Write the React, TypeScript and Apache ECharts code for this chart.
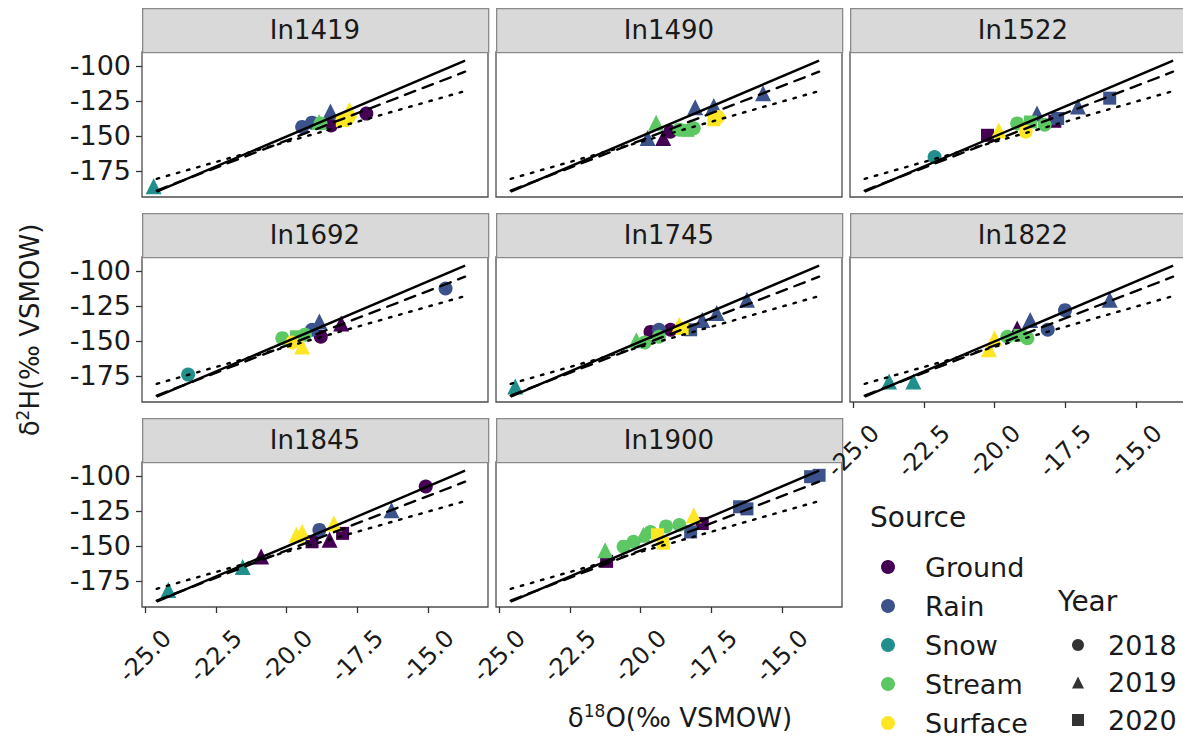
import React, { useEffect, useRef } from "react";
import * as echarts from "echarts";

const FONT = "'DejaVu Sans', 'Liberation Sans', sans-serif";

const panelNames = ["In1419", "In1490", "In1522", "In1692", "In1745", "In1822", "In1845", "In1900"];
const sourceNames = ["Ground", "Rain", "Snow", "Stream", "Surface"];
const sourceColors = ["#440154", "#3B528B", "#21908C", "#5DC863", "#FDE725"];
const yearNames = ["2018", "2019", "2020"];
const yearSymbols = ["circle", "triangle", "rect"];
const yearSizes = [14, 16, 13];

type Pt = [number, number, string, string]; // d18O, d2H, source, year

const in1419: Pt[] = [
  [-24.7, -186, "Snow", "2019"],
  [-19.45, -143.5, "Rain", "2018"],
  [-19.1, -140.5, "Rain", "2018"],
  [-18.85, -140, "Stream", "2019"],
  [-18.8, -141, "Stream", "2018"],
  [-18.45, -132.5, "Rain", "2019"],
  [-18.43, -142.5, "Ground", "2018"],
  [-18.03, -139, "Surface", "2020"],
  [-17.82, -137, "Surface", "2018"],
  [-17.78, -131.5, "Surface", "2019"],
  [-17.18, -134, "Ground", "2018"],
];
const in1490: Pt[] = [
  [-19.45, -140.5, "Stream", "2019"],
  [-19.75, -151.5, "Rain", "2019"],
  [-19.2, -151.5, "Ground", "2019"],
  [-18.95, -147, "Ground", "2018"],
  [-18.63, -145.5, "Stream", "2018"],
  [-18.33, -146, "Stream", "2020"],
  [-18.12, -144.5, "Stream", "2018"],
  [-18.07, -129.5, "Rain", "2019"],
  [-17.41, -128.5, "Rain", "2019"],
  [-17.41, -138.5, "Surface", "2020"],
  [-17.26, -136.5, "Surface", "2018"],
  [-15.67, -119.5, "Rain", "2019"],
];
const in1522: Pt[] = [
  [-22.12, -165, "Snow", "2018"],
  [-20.25, -149.5, "Ground", "2020"],
  [-19.85, -146, "Surface", "2019"],
  [-19.2, -141, "Stream", "2018"],
  [-18.73, -140, "Stream", "2020"],
  [-18.23, -142, "Stream", "2018"],
  [-18.9, -147, "Surface", "2018"],
  [-18.5, -134, "Rain", "2019"],
  [-17.87, -139.5, "Ground", "2020"],
  [-17.77, -137.5, "Rain", "2020"],
  [-17.05, -129, "Rain", "2019"],
  [-15.93, -123, "Rain", "2020"],
];
const in1692: Pt[] = [
  [-23.48, -174, "Snow", "2018"],
  [-20.15, -148, "Stream", "2018"],
  [-19.8, -151, "Surface", "2018"],
  [-19.65, -147, "Stream", "2020"],
  [-19.45, -154, "Surface", "2019"],
  [-19.35, -145.5, "Stream", "2018"],
  [-19.1, -142, "Rain", "2018"],
  [-18.84, -136, "Rain", "2019"],
  [-18.79, -147, "Ground", "2018"],
  [-18.07, -137.5, "Ground", "2019"],
  [-14.38, -112.5, "Rain", "2018"],
];
const in1745: Pt[] = [
  [-24.43, -182.5, "Snow", "2019"],
  [-20.15, -149.5, "Stream", "2019"],
  [-19.85, -151, "Stream", "2018"],
  [-19.65, -143.5, "Ground", "2018"],
  [-19.35, -147, "Stream", "2018"],
  [-19.35, -142, "Rain", "2018"],
  [-18.94, -142, "Ground", "2018"],
  [-18.63, -138.5, "Surface", "2019"],
  [-18.53, -141, "Surface", "2020"],
  [-18.23, -142, "Rain", "2020"],
  [-17.82, -135, "Rain", "2019"],
  [-17.31, -130, "Rain", "2019"],
  [-16.24, -120.5, "Rain", "2019"],
];
const in1822: Pt[] = [
  [-23.73, -179, "Snow", "2019"],
  [-22.87, -179, "Snow", "2019"],
  [-20.2, -156, "Surface", "2019"],
  [-20.0, -148, "Surface", "2019"],
  [-19.55, -147, "Stream", "2018"],
  [-19.2, -141, "Ground", "2019"],
  [-19.1, -146, "Stream", "2020"],
  [-18.84, -148, "Stream", "2018"],
  [-18.74, -135, "Rain", "2019"],
  [-18.12, -142, "Rain", "2018"],
  [-17.51, -128, "Rain", "2018"],
  [-15.93, -120.5, "Rain", "2019"],
];
const in1845: Pt[] = [
  [-24.18, -181.5, "Snow", "2019"],
  [-21.55, -165, "Snow", "2019"],
  [-20.9, -157.5, "Ground", "2019"],
  [-19.65, -142, "Surface", "2019"],
  [-19.45, -140, "Surface", "2019"],
  [-19.1, -147, "Ground", "2020"],
  [-18.84, -138.5, "Rain", "2018"],
  [-18.48, -145.5, "Ground", "2019"],
  [-18.33, -134, "Surface", "2019"],
  [-18.02, -141, "Ground", "2020"],
  [-16.29, -124.5, "Rain", "2019"],
  [-15.08, -107.5, "Ground", "2018"],
];
const in1900: Pt[] = [
  [-21.25, -153, "Stream", "2019"],
  [-21.2, -161, "Ground", "2020"],
  [-20.6, -150.5, "Stream", "2018"],
  [-20.25, -147, "Stream", "2018"],
  [-19.9, -142, "Stream", "2019"],
  [-19.65, -140, "Stream", "2018"],
  [-19.4, -142, "Surface", "2020"],
  [-19.2, -148, "Surface", "2020"],
  [-19.1, -136, "Stream", "2018"],
  [-18.63, -135, "Stream", "2018"],
  [-18.23, -140, "Rain", "2020"],
  [-18.12, -128, "Surface", "2019"],
  [-17.82, -134, "Ground", "2020"],
  [-16.5, -122, "Rain", "2020"],
  [-16.24, -123.5, "Rain", "2020"],
  [-13.99, -100.5, "Rain", "2020"],
  [-13.69, -99.5, "Rain", "2020"],
];
const panelPoints = [in1419, in1490, in1522, in1692, in1745, in1822, in1845, in1900];

const xTicks = [-25, -22.5, -20, -17.5, -15];
const yTicks = [-175, -150, -125, -100];

// water line endpoints (d18O, d2H)
const lineD18O = [-24.59, -13.69];
const solidD2H = [-189.8, -96.2];
const dashedD2H = [-189.0, -104.1];
const dottedD2H = [-180.6, -117.9];

const X_MIN = -25.11;
const X_MAX = -12.88;
const Y_MIN = -193.6;
const Y_MAX = -90;

const colLefts = [142, 496, 850];
const rowTops = [52, 257, 462];
const PW = 346;
const PH = 145;
const STRIP_H = 44;

function buildOption() {
  const grid: any[] = [];
  const xAxis: any[] = [];
  const yAxis: any[] = [];
  const series: any[] = [];
  const graphic: any[] = [];

  panelNames.forEach((name, i) => {
    const row = Math.floor(i / 3);
    const col = i % 3;
    const left = colLefts[col];
    const top = rowTops[row];
    const showX = i >= 5;
    const showY = col === 0;

    grid.push({
      left, top, width: PW, height: PH,
      show: true, borderColor: "#4d4d4d", borderWidth: 1.3,
      backgroundColor: "#fff", containLabel: false, outerBoundsMode: "none",
    });
    xAxis.push({
      gridIndex: i, type: "value", min: X_MIN, max: X_MAX,
      axisLine: { show: false }, splitLine: { show: false },
      axisTick: { show: showX, customValues: xTicks, length: 6, lineStyle: { color: "#333", width: 1.3 } },
      axisLabel: {
        show: showX, customValues: xTicks, rotate: 45, margin: 49,
        align: "center", verticalAlign: "middle",
        fontSize: 24, color: "#1a1a1a", fontFamily: FONT,
        formatter: (v: number) => v.toFixed(1),
      },
    });
    yAxis.push({
      gridIndex: i, type: "value", min: Y_MIN, max: Y_MAX,
      axisLine: { show: false }, splitLine: { show: false },
      axisTick: { show: showY, customValues: yTicks, length: 6, lineStyle: { color: "#333", width: 1.3 } },
      axisLabel: {
        show: showY, customValues: yTicks, margin: 11,
        fontSize: 27, color: "#1a1a1a", fontFamily: FONT,
      },
    });

    // strip
    graphic.push({
      type: "rect", left, top: top - STRIP_H, silent: true,
      shape: { width: PW, height: STRIP_H },
      style: { fill: "#d9d9d9", stroke: "#8a8a8a", lineWidth: 1.3 },
    });
    graphic.push({
      type: "text", x: left + PW / 2, y: top - STRIP_H / 2, silent: true,
      style: { text: name, fontSize: 26, fill: "#1a1a1a", fontFamily: FONT, align: "center", verticalAlign: "middle" },
    });

    // points, one series per source
    sourceNames.forEach((src, si) => {
      const pts = panelPoints[i].filter((p) => p[2] === src);
      if (!pts.length) return;
      series.push({
        type: "scatter", name: src, xAxisIndex: i, yAxisIndex: i, z: 2,
        itemStyle: { color: sourceColors[si], opacity: 1 },
        data: pts.map((p) => {
          const yi = yearNames.indexOf(p[3]);
          return { value: [p[0], p[1]], symbol: yearSymbols[yi], symbolSize: yearSizes[yi] };
        }),
      });
    });

    const lines: [number[], any][] = [
      [solidD2H, "solid"],
      [dashedD2H, [11, 8]],
      [dottedD2H, [2.5, 8]],
    ];
    lines.forEach(([ys, type]) => {
      series.push({
        type: "line", xAxisIndex: i, yAxisIndex: i, z: 4, symbol: "none", silent: true,
        lineStyle: { color: "#000", width: 2.4, type, cap: type === "solid" ? "butt" : "round" },
        data: lineD18O.map((x, k) => [x, ys[k]]),
      });
    });
  });

  // dummy series for the Year legend
  yearNames.forEach((y) => {
    series.push({ type: "scatter", name: y, xAxisIndex: 0, yAxisIndex: 0, itemStyle: { color: "#000" }, data: [] });
  });

  const titleRich = {
    a: { fontSize: 26, fontFamily: FONT, lineHeight: 32, fill: "#1a1a1a" },
    s: { fontSize: 17, fontFamily: FONT, verticalAlign: "top", fill: "#1a1a1a" },
  };
  graphic.push({
    type: "text", x: 680, y: 718, silent: true,
    style: { text: "{a|δ}{s|18}{a|O(‰ VSMOW)}", align: "center", verticalAlign: "middle", fill: "#1a1a1a", rich: titleRich },
  });
  graphic.push({
    type: "text", x: 30, y: 330, rotation: Math.PI / 2, silent: true,
    style: { text: "{a|δ}{s|2}{a|H(‰ VSMOW)}", align: "center", verticalAlign: "middle", fill: "#1a1a1a", rich: titleRich },
  });
  graphic.push({
    type: "text", x: 870, y: 517, silent: true,
    style: { text: "Source", fontSize: 28, fontFamily: FONT, fill: "#1a1a1a", align: "left", verticalAlign: "middle" },
  });
  graphic.push({
    type: "text", x: 1058, y: 601, silent: true,
    style: { text: "Year", fontSize: 28, fontFamily: FONT, fill: "#1a1a1a", align: "left", verticalAlign: "middle" },
  });

  return {
    animation: false,
    backgroundColor: "#fff",
    textStyle: { fontFamily: FONT },
    grid, xAxis, yAxis, series, graphic,
    legend: [
      {
        left: 881, top: 553, orient: "vertical", icon: "circle", selectedMode: false, padding: 0,
        itemWidth: 14, itemHeight: 14, itemGap: 11, height: 190,
        data: sourceNames,
        textStyle: { fontSize: 27, color: "#1a1a1a", fontFamily: FONT, lineHeight: 28, padding: [0, 0, 0, 25] },
      },
      {
        left: 1072, top: 631, orient: "vertical", selectedMode: false, padding: 0,
        itemWidth: 12, itemHeight: 12, itemGap: 9.5, height: 106,
        data: yearNames.map((y, k) => ({ name: y, icon: yearSymbols[k] })),
        textStyle: { fontSize: 27, color: "#1a1a1a", fontFamily: FONT, lineHeight: 28, padding: [0, 0, 0, 19] },
      },
    ],
  };
}

export default function App() {
  const ref = useRef<HTMLDivElement>(null);
  useEffect(() => {
    const chart = echarts.init(ref.current as HTMLDivElement, null, { renderer: "svg" });
    chart.setOption(buildOption() as any);
    return () => chart.dispose();
  }, []);
  return (
    <div
      ref={ref}
      style={{ position: "absolute", left: 0, top: 0, width: 1183, height: 740, background: "#fff" }}
    />
  );
}
